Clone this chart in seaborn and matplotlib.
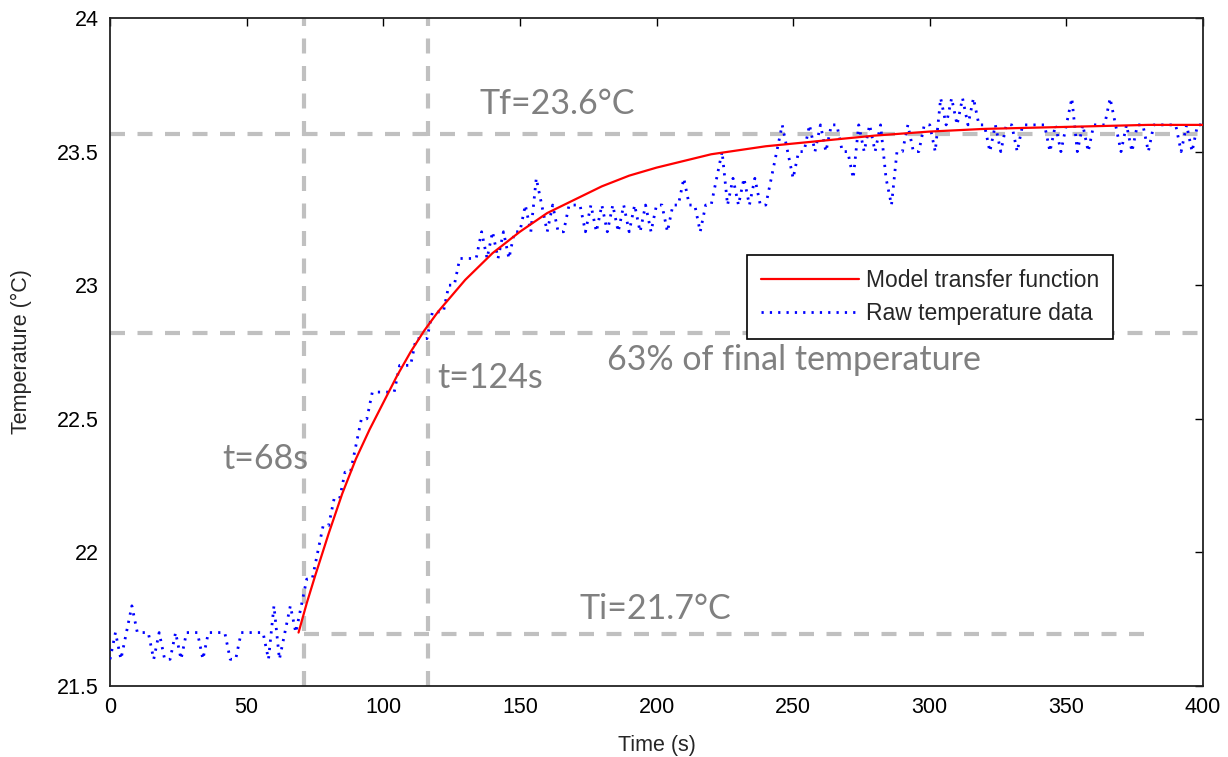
import numpy as np
import pandas as pd
import matplotlib
matplotlib.use("Agg")
import matplotlib.pyplot as plt
import seaborn as sns

# ---------------- data ----------------
raw_time = list(range(0, 402, 2))
raw_temp = [
    21.6, 21.7, 21.6, 21.7, 21.8, 21.7, 21.7, 21.7, 21.6, 21.7,   # 0-18
    21.6, 21.6, 21.7, 21.6, 21.7, 21.7, 21.7, 21.6, 21.7, 21.7,   # 20-38
    21.7, 21.7, 21.6, 21.6, 21.7, 21.7, 21.7, 21.7, 21.7, 21.6,   # 40-58
    21.8, 21.6, 21.7, 21.8, 21.7, 21.8, 21.9, 21.9, 22.0, 22.1,   # 60-78
    22.1, 22.2, 22.2, 22.3, 22.3, 22.4, 22.5, 22.5, 22.6, 22.6,   # 80-98
    22.6, 22.6, 22.6, 22.7, 22.7, 22.7, 22.8, 22.8, 22.8, 22.9,   # 100-118
    22.9, 22.9, 23.0, 23.0, 23.1, 23.1, 23.1, 23.1, 23.2, 23.1,   # 120-138
    23.2, 23.1, 23.2, 23.1, 23.2, 23.2, 23.3, 23.2, 23.4, 23.3,   # 140-158
    23.2, 23.3, 23.2, 23.2, 23.3, 23.3, 23.3, 23.2, 23.3, 23.2,   # 160-178
    23.3, 23.2, 23.3, 23.2, 23.3, 23.2, 23.3, 23.2, 23.3, 23.2,   # 180-198
    23.3, 23.3, 23.2, 23.3, 23.3, 23.4, 23.3, 23.3, 23.2, 23.3,   # 200-218
    23.3, 23.4, 23.5, 23.3, 23.4, 23.3, 23.4, 23.3, 23.4, 23.3,   # 220-238
    23.3, 23.4, 23.5, 23.6, 23.5, 23.4, 23.5, 23.5, 23.6, 23.5,   # 240-258
    23.6, 23.5, 23.6, 23.6, 23.5, 23.5, 23.4, 23.6, 23.5, 23.6,   # 260-278
    23.5, 23.6, 23.4, 23.3, 23.5, 23.5, 23.6, 23.5, 23.5, 23.6,   # 280-298
    23.6, 23.5, 23.7, 23.6, 23.7, 23.6, 23.7, 23.6, 23.7, 23.6,   # 300-318
    23.6, 23.5, 23.6, 23.5, 23.6, 23.6, 23.5, 23.6, 23.6, 23.6,   # 320-338
    23.6, 23.6, 23.5, 23.6, 23.5, 23.6, 23.7, 23.5, 23.6, 23.5,   # 340-358
    23.6, 23.6, 23.6, 23.7, 23.6, 23.5, 23.6, 23.5, 23.6, 23.6,   # 360-378
    23.5, 23.6, 23.6, 23.6, 23.6, 23.6, 23.5, 23.6, 23.5, 23.6,   # 380-398
    23.6,                                                         # 400
]

model_time = [69, 72, 75, 80, 85, 90, 95, 100, 105, 110, 115, 120, 125, 130,
              140, 150, 160, 170, 180, 190, 200, 220, 240, 260, 280, 300,
              320, 340, 360, 380, 400]
model_temp = [21.70, 21.81, 21.91, 22.07, 22.22, 22.35, 22.46, 22.56, 22.66,
              22.75, 22.83, 22.90, 22.96, 23.02, 23.12, 23.20, 23.27, 23.32,
              23.37, 23.41, 23.44, 23.49, 23.52, 23.54, 23.56, 23.575, 23.585,
              23.59, 23.595, 23.60, 23.60]

# reference guide lines (time in s, temperature in degC)
guide_times = [71, 116.5]
guide_temps = [23.566, 22.82, 21.695]
guide_temp_spans = [(0, 400), (0, 400), (71, 379)]

annotations = ["Tf=23.6°C", "63% of final temperature", "t=124s", "t=68s", "Ti=21.7°C"]
annot_x = [135.4, 182.0, 119.8, 41.0, 172.0]
annot_y = [23.678, 22.72, 22.653, 22.35, 21.788]

x_ticks = [0, 50, 100, 150, 200, 250, 300, 350, 400]
y_ticks = [21.5, 22, 22.5, 23, 23.5, 24]
y_tick_labels = ["21.5", "22", "22.5", "23", "23.5", "24"]

raw_df = pd.DataFrame({"Time": raw_time, "Temp": raw_temp})
model_df = pd.DataFrame({"Time": model_time, "Temp": model_temp})

# ---------------- plot ----------------
sns.set_style("white")
plt.rcParams["font.family"] = ["Liberation Sans", "DejaVu Sans"]

fig = plt.figure(figsize=(12.28, 7.57), dpi=100)
ax = fig.add_axes([110 / 1228, 1 - 686 / 757, 1093 / 1228, 668 / 757])

guide_color = "#c0c0c0"
dash = (0, (3.6, 3.0))
for t in guide_times:
    ax.axvline(t, color=guide_color, lw=3, linestyle=dash, zorder=1)
for T, (a, b) in zip(guide_temps, guide_temp_spans):
    ax.plot([a, b], [T, T], color=guide_color, lw=3, linestyle=dash, zorder=1)

sns.lineplot(data=raw_df, x="Time", y="Temp", ax=ax, color="blue",
             linestyle=(0, (0.8, 2.2)), lw=2.0, label="Raw temperature data",
             zorder=3)
sns.lineplot(data=model_df, x="Time", y="Temp", ax=ax, color="red",
             lw=1.6, label="Model transfer function", zorder=4)

for txt, x, y in zip(annotations, annot_x, annot_y):
    ax.text(x, y, txt, color="#808080", fontsize=24.5, family=["Lato", "DejaVu Sans"],
            ha="left", va="center", zorder=5)

ax.set_xlim(0, 400)
ax.set_ylim(21.5, 24)
ax.set_xticks(x_ticks)
ax.set_yticks(y_ticks)
ax.set_yticklabels(y_tick_labels)
ax.tick_params(direction="in", length=6, width=1, colors="black",
               top=True, right=True, labelsize=15.5, pad=8)
for s in ax.spines.values():
    s.set_visible(True)
    s.set_color("#222222")
    s.set_linewidth(1.3)
ax.set_xlabel("Time (s)", fontsize=15.5, labelpad=12)
ax.set_ylabel("Temperature (°C)", fontsize=15.5, labelpad=18)

handles, labels = ax.get_legend_handles_labels()
order = [labels.index("Model transfer function"), labels.index("Raw temperature data")]
leg = ax.legend([handles[i] for i in order], [labels[i] for i in order],
                loc="upper left", bbox_to_anchor=((747 - 110) / 1093, (686 - 255) / 668),
                borderaxespad=0,
                frameon=True, fancybox=False, framealpha=1, edgecolor="black",
                fontsize=16.5, handlelength=4.3, borderpad=0.6, labelspacing=0.45,
                handletextpad=0.3)
leg.get_frame().set_linewidth(1.2)

fig.savefig("out.png", dpi=100)
